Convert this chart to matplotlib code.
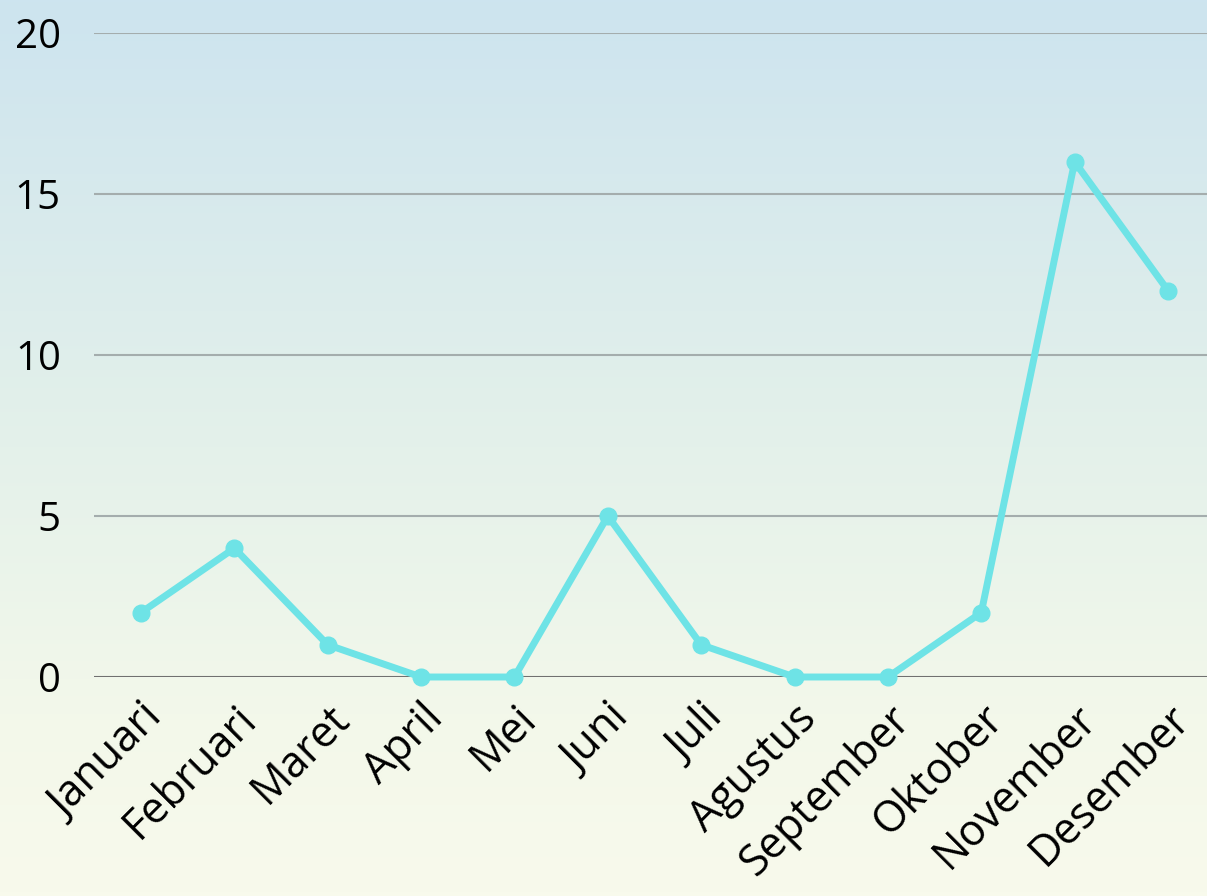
import matplotlib
matplotlib.use("Agg")
import matplotlib.pyplot as plt
import numpy as np
from matplotlib.colors import LinearSegmentedColormap

months = ["Januari", "Februari", "Maret", "April", "Mei", "Juni", "Juli",
          "Agustus", "September", "Oktober", "November", "Desember"]
values = [2, 4, 1, 0, 0, 5, 1, 0, 0, 2, 16, 12]
yticks = [0, 5, 10, 15, 20]

plt.rcParams['font.family'] = ['Open Sans', 'DejaVu Sans']

W, H = 1207, 896
fig = plt.figure(figsize=(W / 100, H / 100), dpi=100)

# background gradient
bg = fig.add_axes([0, 0, 1, 1], zorder=-10)
cmap = LinearSegmentedColormap.from_list(
    "bg", [(0.0, "#cde4ef"), (0.5, "#e4f1ea"), (0.8, "#f3f8ea"), (1.0, "#f8faec")])
grad = np.linspace(0, 1, 256).reshape(-1, 1)
bg.imshow(grad, aspect="auto", cmap=cmap, extent=[0, 1, 0, 1], origin="upper")
bg.set_axis_off()

left = 94.3 / W
right = 1214.7 / W
top_px, bot_px = 33, 677
ax = fig.add_axes([left, (H - bot_px) / H, right - left, (bot_px - top_px) / H])
ax.patch.set_alpha(0)

x = np.arange(len(months))
ax.plot(x, values, color="#6ee3e6", lw=5, marker="o", markersize=12,
        solid_joinstyle="round", clip_on=False, zorder=5)

ax.set_xlim(-0.5, len(months) - 0.5)
ax.set_ylim(0, 20)
ax.set_yticks(yticks)
ax.set_yticklabels([str(v) for v in yticks])
for v in yticks:
    ax.axhline(v, color="#707070" if v == 0 else "#a4adad", lw=1.5, zorder=1)

ax.set_xticks(x)
ax.set_xticklabels(months, rotation=45, ha="right", va="top", rotation_mode="anchor")
ax.tick_params(axis="both", length=0, colors="black")
ax.tick_params(axis="y", pad=24, labelsize=29)
ax.tick_params(axis="x", pad=14, labelsize=31)
for s in ax.spines.values():
    s.set_visible(False)

fig.savefig("out.png", dpi=100)
